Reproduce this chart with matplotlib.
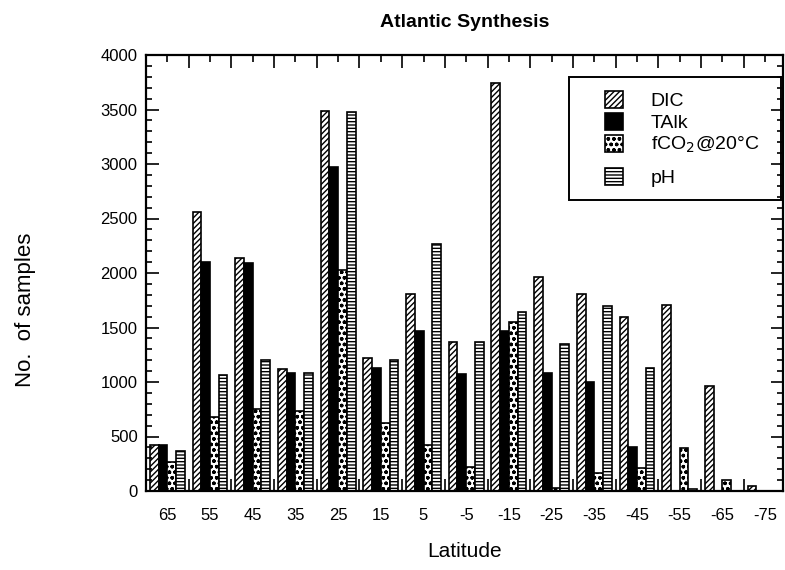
import numpy as np
import matplotlib
matplotlib.use("Agg")
import matplotlib.pyplot as plt
from matplotlib.ticker import MultipleLocator, FixedLocator
from matplotlib.patches import Rectangle

plt.rcParams['font.family'] = ['Liberation Sans', 'DejaVu Sans']
plt.rcParams['hatch.linewidth'] = 1.0

latitudes = ['65', '55', '45', '35', '25', '15', '5', '-5', '-15', '-25', '-35', '-45', '-55', '-65', '-75']
dic  = [420, 2560, 2140, 1120, 3490, 1220, 1810, 1370, 3740, 1960, 1810, 1600, 1710, 960, 50]
talk = [420, 2105, 2090, 1080, 2970, 1130, 1470, 1075, 1470, 1080, 1000, 400, 0, 0, 0]
fco2 = [270, 680, 750, 735, 2025, 620, 420, 220, 1550, 25, 165, 210, 390, 100, 0]
ph   = [370, 1060, 1200, 1080, 3480, 1200, 2270, 1370, 1645, 1350, 1695, 1130, 15, 0, 0]

series = [
    ('DIC', dic, dict(facecolor='white', hatch='//////')),
    ('TAlk', talk, dict(facecolor='black', hatch=None)),
    ('fCO$_2$@20\u00b0C', fco2, dict(facecolor='white', hatch='ooo')),
    ('pH', ph, dict(facecolor='white', hatch='-----')),
]

W, H = 785, 570
fig = plt.figure(figsize=(W/100, H/100), dpi=100)
L, R, T, B = 146, 783, 55, 491
ax = fig.add_axes([L/W, 1-B/H, (R-L)/W, (B-T)/H])

x = np.arange(len(latitudes))
w = 0.204
bars = []
for k, (name, vals, st) in enumerate(series):
    bars.append(ax.bar(x - 2*w + (k + 0.5)*w, vals, width=w, edgecolor='black',
                       linewidth=1.2, label=name, **st))

ax.set_xlim(-0.5, 14.42)
ax.set_ylim(0, 4000)

ax.xaxis.set_major_locator(FixedLocator(x))
ax.set_xticklabels(latitudes)
ax.xaxis.set_minor_locator(FixedLocator(np.arange(-0.5, 14.6, 1.0)))
ax.yaxis.set_major_locator(MultipleLocator(500))
ax.yaxis.set_minor_locator(MultipleLocator(100))

ax.tick_params(axis='x', which='major', direction='in', bottom=False, top=True,
               length=5, width=1.2, labelsize=12, pad=12)
ax.tick_params(axis='x', which='minor', direction='in', bottom=True, top=True,
               length=9, width=1.2)
ax.tick_params(axis='y', which='major', direction='in', left=True, right=True,
               length=9, width=1.2, labelsize=12, pad=6)
ax.tick_params(axis='y', which='minor', direction='in', left=True, right=True,
               length=4.5, width=1.2)
for s in ax.spines.values():
    s.set_linewidth(1.6)

ax.set_xlabel('Latitude', fontsize=15)
ax.xaxis.set_label_coords(0.5, (B-542)/(B-T), transform=ax.transAxes)
ax.set_ylabel('No.  of samples', fontsize=16)
ax.yaxis.set_label_coords((36-L)/(R-L), (B-310)/(B-T), transform=ax.transAxes)
ax.set_title('Atlantic Synthesis', fontsize=14, fontweight='bold', pad=20)

# legend frame
ax.add_patch(Rectangle(((569-L)/(R-L), (B-200)/(B-T)), (781-569)/(R-L), (200-77)/(B-T),
                       transform=ax.transAxes, fill=False, edgecolor='black',
                       linewidth=1.4, zorder=6, clip_on=False))
legkw = dict(frameon=False, fontsize=14, handlelength=0.95, handleheight=0.95,
             handletextpad=1.4, labelspacing=0.15, borderaxespad=0, borderpad=0,
             loc='upper left')
leg1 = ax.legend(handles=bars[:3], bbox_to_anchor=((605-L)/(R-L), (B-91)/(B-T)), **legkw)
ax.add_artist(leg1)
leg2 = ax.legend(handles=bars[3:], bbox_to_anchor=((605-L)/(R-L), (B-168)/(B-T)), **legkw)

fig.savefig('out.png', dpi=100)
